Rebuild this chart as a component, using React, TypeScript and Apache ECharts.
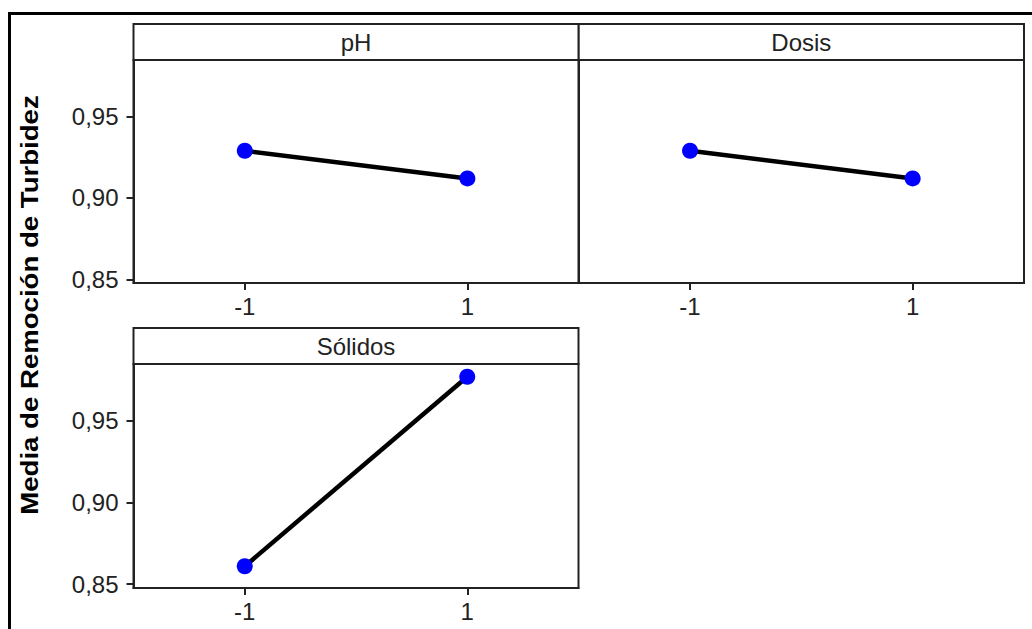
import React, { useEffect, useRef } from "react";
import * as echarts from "echarts";

const xLevels = [-1, 1];
const phMeans = [0.929, 0.912];
const dosisMeans = [0.929, 0.912];
const solidosMeans = [0.861, 0.977];
const yTicks = [0.85, 0.9, 0.95];
const panelNames = ["pH", "Dosis", "Sólidos"];
const yTitle = "Media de Remoción de Turbidez";

const FONT = "'Liberation Sans', Arial, sans-serif";

export default function App() {
  const ref = useRef<HTMLDivElement>(null);
  useEffect(() => {
    if (!ref.current) return;
    const chart = echarts.init(ref.current, undefined, { renderer: "svg" });

    const panels = [
      { left: 133.5, top: 60, width: 445.2, height: 223, values: phMeans, showY: true },
      { left: 578.7, top: 60, width: 445.3, height: 223, values: dosisMeans, showY: false },
      { left: 133.5, top: 364, width: 445, height: 224, values: solidosMeans, showY: true },
    ];

    const grid = panels.map((p) => ({
      left: p.left,
      top: p.top,
      width: p.width,
      height: p.height,
      show: true,
      borderColor: "#222",
      borderWidth: 2,
      backgroundColor: "transparent",
      containLabel: false,
      outerBoundsMode: "none",
    }));

    const xAxis = panels.map((_, i) => ({
      type: "value",
      gridIndex: i,
      min: -2,
      max: 2,
      splitLine: { show: false },
      axisLine: { show: true, onZero: false, lineStyle: { color: "#222", width: 2 } },
      axisTick: {
        show: true,
        customValues: xLevels,
        length: 7,
        lineStyle: { color: "#222", width: 2 },
      },
      axisLabel: {
        show: true,
        customValues: xLevels,
        margin: 11,
        fontFamily: FONT,
        fontSize: 24,
        color: "#222",
        formatter: (v: number) => String(v),
      },
    }));

    const yAxis = panels.map((p, i) => ({
      type: "value",
      gridIndex: i,
      min: 0.8477,
      max: 0.9848,
      splitLine: { show: false },
      axisLine: { show: true, onZero: false, lineStyle: { color: "#222", width: 2 } },
      axisTick: {
        show: p.showY,
        customValues: yTicks,
        length: 7,
        lineStyle: { color: "#222", width: 2 },
      },
      axisLabel: {
        show: p.showY,
        customValues: yTicks,
        margin: 15,
        fontFamily: FONT,
        fontSize: 24,
        color: "#222",
        formatter: (v: number) => v.toFixed(2).replace(".", ","),
      },
    }));

    const series = panels.map((p, i) => ({
      type: "line",
      xAxisIndex: i,
      yAxisIndex: i,
      data: xLevels.map((x, k) => [x, p.values[k]]),
      lineStyle: { color: "#000", width: 4.5 },
      symbol: "circle",
      symbolSize: 16,
      itemStyle: { color: "#0000ff", borderWidth: 0 },
      z: 3,
    }));

    const strips: any[] = panels.map((p, i) => ({
      type: "group",
      children: [
        {
          type: "rect",
          shape: { x: p.left, y: p.top - 36, width: p.width, height: 36 },
          style: { fill: "#fff", stroke: "#222", lineWidth: 2 },
        },
        {
          type: "text",
          x: p.left + p.width / 2,
          y: p.top - 18,
          style: {
            text: panelNames[i],
            font: `24px ${FONT}`,
            fill: "#222",
            textAlign: "center",
            textVerticalAlign: "middle",
          },
        },
      ],
    }));

    const graphic = [
      {
        type: "rect",
        shape: { x: 9.5, y: 13.5, width: 1040, height: 640 },
        style: { fill: "none", stroke: "#000", lineWidth: 3 },
        silent: true,
      },
      ...strips,
      {
        type: "text",
        x: 30,
        y: 305,
        rotation: Math.PI / 2,
        scaleX: 1.2,
        style: {
          text: yTitle,
          font: `bold 23px ${FONT}`,
          fill: "#000",
          textAlign: "center",
          textVerticalAlign: "middle",
        },
      },
    ];

    chart.setOption({
      animation: false,
      backgroundColor: "#fff",
      grid,
      xAxis,
      yAxis,
      series,
      graphic,
    } as any);

    return () => chart.dispose();
  }, []);

  return (
    <div
      ref={ref}
      style={{ position: "fixed", left: 0, top: 0, width: 1032, height: 629 }}
    />
  );
}
